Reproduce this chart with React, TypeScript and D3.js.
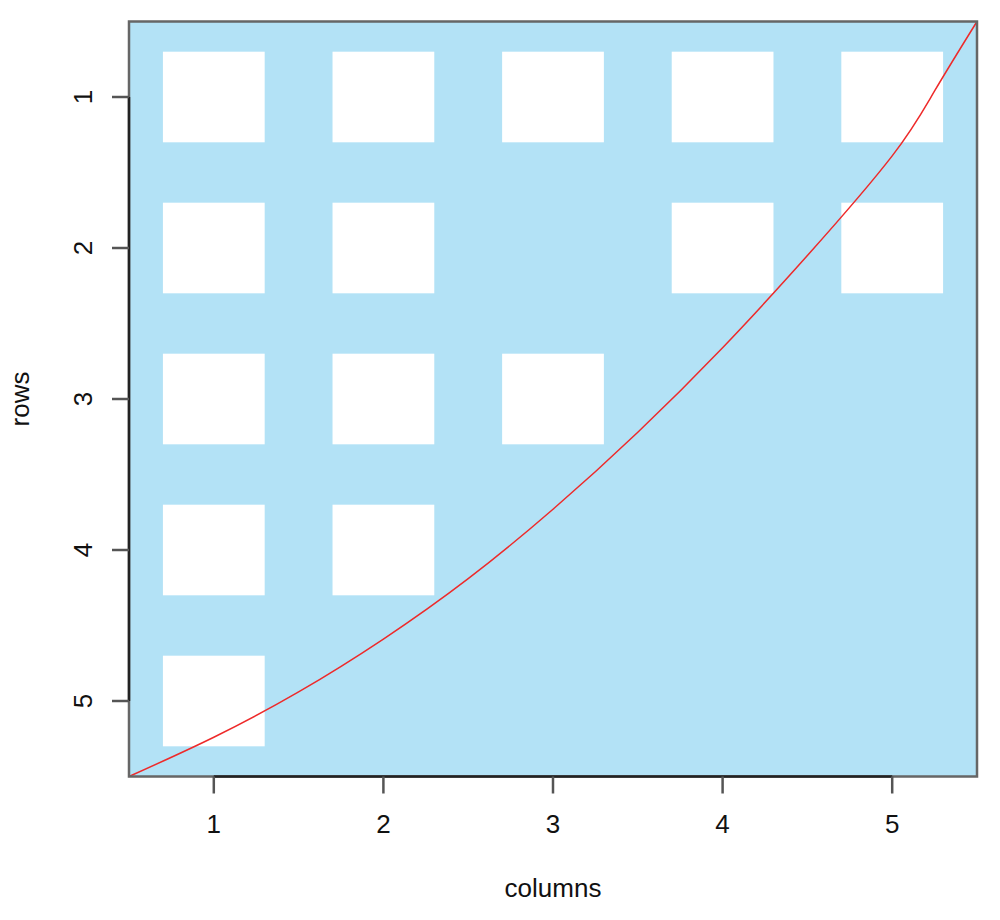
import React from "react";
import * as d3 from "d3";

const columns = [1, 2, 3, 4, 5];
const rows = [1, 2, 3, 4, 5];
// white cells: [column, row]
const whiteCells: [number, number][] = [
  [1, 1], [2, 1], [3, 1], [4, 1], [5, 1],
  [1, 2], [2, 2], [4, 2], [5, 2],
  [1, 3], [2, 3], [3, 3],
  [1, 4], [2, 4],
  [1, 5],
];
const curveX = [0.5, 1.0, 1.5, 2.0, 2.5, 3.0, 3.5, 4.0, 4.5, 5.0, 5.25, 5.5];
const curveY = [5.5, 5.24, 4.94, 4.59, 4.19, 3.73, 3.22, 2.66, 2.05, 1.39, 0.96, 0.5];
const xTickLabels = ["1", "2", "3", "4", "5"];
const yTickLabels = ["1", "2", "3", "4", "5"];

export default function App() {
  const left = 129, right = 977, top = 21.5, bottom = 776.5;
  const x = d3.scaleLinear().domain([0.5, 5.5]).range([left, right]);
  const y = d3.scaleLinear().domain([0.5, 5.5]).range([top, bottom]);
  const half = 0.3;
  const line = d3
    .line<number>()
    .x((_, i) => x(curveX[i]))
    .y((_, i) => y(curveY[i]))
    .curve(d3.curveNatural);
  const font = "'Liberation Sans', Arial, sans-serif";
  const fs = 26;
  const tickLen = 17;
  return (
    <svg
      width={1000}
      height={920}
      style={{ position: "absolute", left: 0, top: 0 }}
    >
      <rect x={0} y={0} width={1000} height={920} fill="#fff" />
      <rect x={left} y={top} width={right - left} height={bottom - top} fill="#b3e2f6" />
      {whiteCells.map(([c, r], i) => (
        <rect
          key={i}
          x={x(c - half)}
          y={y(r - half)}
          width={x(c + half) - x(c - half)}
          height={y(r + half) - y(r - half)}
          fill="#ffffff"
        />
      ))}
      <path d={line(curveX) || ""} fill="none" stroke="#ee2a2a" strokeWidth={1.5} />
      <rect
        x={left}
        y={top}
        width={right - left}
        height={bottom - top}
        fill="none"
        stroke="#666"
        strokeWidth={2.5}
      />
      {/* bottom axis */}
      <line x1={x(columns[0])} x2={x(columns[4])} y1={bottom} y2={bottom} stroke="#222" strokeWidth={2.5} />
      {columns.map((c, i) => (
        <g key={"xt" + i}>
          <line x1={x(c)} x2={x(c)} y1={bottom} y2={bottom + tickLen} stroke="#555" strokeWidth={2.5} />
          <text
            x={x(c)}
            y={833}
            textAnchor="middle"
            fontFamily={font}
            fontSize={fs}
            fill="#111"
          >
            {xTickLabels[i]}
          </text>
        </g>
      ))}
      {/* left axis */}
      <line x1={left} x2={left} y1={y(rows[0])} y2={y(rows[4])} stroke="#222" strokeWidth={2.5} />
      {rows.map((r, i) => (
        <g key={"yt" + i}>
          <line x1={left - tickLen} x2={left} y1={y(r)} y2={y(r)} stroke="#555" strokeWidth={2.5} />
          <text
            transform={`translate(92,${y(r)}) rotate(-90)`}
            textAnchor="middle"
            fontFamily={font}
            fontSize={fs}
            fill="#111"
          >
            {yTickLabels[i]}
          </text>
        </g>
      ))}
      <text x={(left + right) / 2} y={897} textAnchor="middle" fontFamily={font} fontSize={fs} fill="#111">
        columns
      </text>
      <text
        transform={`translate(29,${(top + bottom) / 2}) rotate(-90)`}
        textAnchor="middle"
        fontFamily={font}
        fontSize={fs}
        fill="#111"
      >
        rows
      </text>
    </svg>
  );
}
